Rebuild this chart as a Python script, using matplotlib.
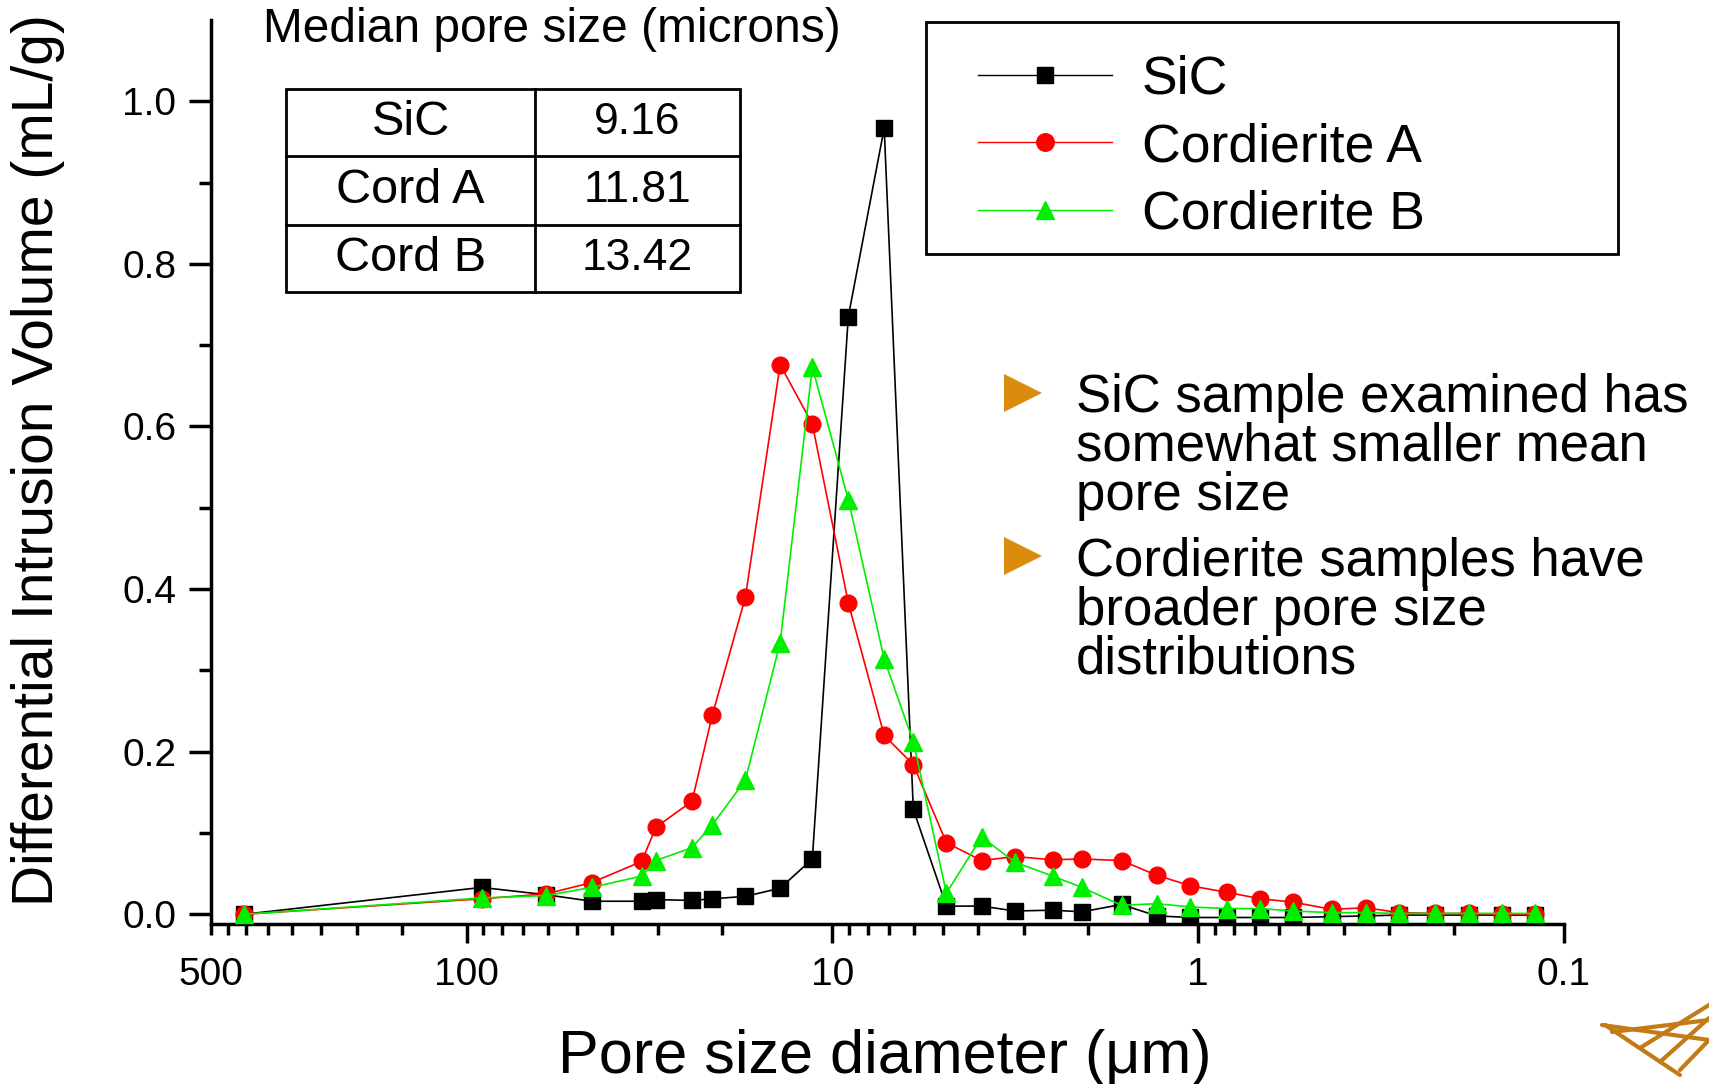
import matplotlib
matplotlib.use("Agg")
import matplotlib.pyplot as plt
from matplotlib.ticker import FixedLocator, FuncFormatter
from matplotlib.lines import Line2D

plt.rcParams['font.family'] = ['Liberation Sans', 'DejaVu Sans']

# ---- data ----
pore_size = [405, 91, 60.7, 45.5, 33.2, 30.4, 24.2, 21.3, 17.3, 13.9, 11.35, 9.05,
             7.22, 6.01, 4.88, 3.91, 3.17, 2.50, 2.08, 1.62, 1.30, 1.05, 0.835,
             0.676, 0.552, 0.432, 0.348, 0.283, 0.225, 0.182, 0.148, 0.120]
sic = [0.0, 0.033, 0.024, 0.016, 0.016, 0.018, 0.017, 0.019, 0.022, 0.032, 0.068, 0.735,
       0.967, 0.129, 0.010, 0.010, 0.004, 0.005, 0.003, 0.012, -0.002, -0.004, -0.004,
       -0.004, -0.004, -0.003, -0.002, -0.001, -0.001, -0.001, -0.001, -0.001]
cord_a = [0.0, 0.019, 0.025, 0.039, 0.065, 0.107, 0.139, 0.245, 0.390, 0.676, 0.603, 0.383,
          0.220, 0.184, 0.088, 0.066, 0.071, 0.067, 0.068, 0.066, 0.048, 0.035, 0.027,
          0.019, 0.015, 0.006, 0.008, 0.002, 0.001, 0.001, 0.0, 0.0]
cord_b = [0.0, 0.020, 0.023, 0.033, 0.047, 0.066, 0.082, 0.110, 0.165, 0.334, 0.673, 0.510,
          0.314, 0.212, 0.026, 0.095, 0.064, 0.047, 0.033, 0.011, 0.013, 0.009, 0.007,
          0.007, 0.004, 0.002, 0.002, 0.001, 0.001, 0.001, 0.001, 0.001]
series_names = ["SiC", "Cordierite A", "Cordierite B"]
table_samples = ["SiC", "Cord A", "Cord B"]
table_medians = ["9.16", "11.81", "13.42"]
x_major = [100, 10, 1, 0.1]
x_major_labels = ["100", "10", "1", "0.1"]
bullets = ["SiC sample examined has\nsomewhat smaller mean\npore size",
           "Cordierite samples have\nbroader pore size\ndistributions"]

W, H = 1709, 1084
fig = plt.figure(figsize=(W / 100, H / 100), dpi=100)
ax = fig.add_axes([211 / W, 1 - 924 / H, (1564 - 211) / W, (924 - 20) / H])

ax.plot(pore_size, sic, color='black', lw=1.2, marker='s', ms=11, mec='black', mfc='black', label=series_names[0], zorder=3)
ax.plot(pore_size, cord_a, color='red', lw=1.2, marker='o', ms=12, mec='red', mfc='red', label=series_names[1], zorder=4)
ax.plot(pore_size, cord_b, color='#00ee00', lw=1.2, marker='^', ms=13, mec='#00ee00', mfc='#00ee00', label=series_names[2], zorder=5)

ax.set_xscale('log')
ax.set_xlim(500, 0.1)
ax.set_ylim(-0.012, 1.1)

for s in ['top', 'right']:
    ax.spines[s].set_visible(False)
for s in ['left', 'bottom']:
    ax.spines[s].set_linewidth(2.5)

ax.xaxis.set_major_locator(FixedLocator(x_major))
ax.xaxis.set_major_formatter(FuncFormatter(lambda v, p: x_major_labels[x_major.index(v)] if v in x_major else ''))
minors = [150, 200, 250, 300, 350, 400, 450, 500]
for d in [10, 1, 0.1]:
    minors += [k * d for k in range(2, 10)]
ax.xaxis.set_minor_locator(FixedLocator(minors))
ax.xaxis.set_minor_formatter(FuncFormatter(lambda v, p: '500' if abs(v - 500) < 1 else ''))

ax.set_yticks([0.0, 0.2, 0.4, 0.6, 0.8, 1.0])
ax.set_yticks([0.1, 0.3, 0.5, 0.7, 0.9], minor=True)
ax.yaxis.set_major_formatter(FuncFormatter(lambda v, p: f"{v:.1f}"))

ax.tick_params(axis='x', which='major', direction='out', length=14, width=2.5, labelsize=28, pad=10)
ax.tick_params(axis='x', which='minor', direction='out', length=8, width=2.5, labelsize=28, pad=16)
ax.tick_params(axis='y', which='major', direction='out', length=16, width=2.5, labelsize=28, pad=9)
ax.tick_params(axis='y', which='minor', direction='out', length=9, width=2.5)

ax.set_xlabel("Pore size diameter (\u03bcm)", fontsize=44)
ax.xaxis.set_label_coords(0.498, (924 - 1058) / 904)
ax.xaxis.label.set_verticalalignment('center')
ax.set_ylabel("Differential Intrusion Volume (mL/g)", fontsize=41)
ax.yaxis.set_label_coords((38 - 211) / 1353, (924 - 460) / 904)
ax.yaxis.label.set_verticalalignment('center')

# legend (frame drawn separately)
leg_fs = 38.5
leg = ax.legend(loc='upper left', bbox_to_anchor=((978 - 211) / 1353, (924 - 55) / 904),
                fontsize=leg_fs, frameon=False, handlelength=2.5, numpoints=1, markerscale=1.05,
                labelspacing=0.32, borderpad=0, handletextpad=0.56, borderaxespad=0)
for h in leg.get_lines():
    h.set_linewidth(1.0)
fig.add_artist(plt.Rectangle((926 / W, 1 - 254 / H), (1618 - 926) / W, (254 - 22) / H,
                             transform=fig.transFigure, fill=False, lw=2, ec='black'))

# table
tbl_l, tbl_r, tbl_t, tbl_b = 286 / W, 740 / W, 1 - 89 / H, 1 - 292 / H
col = 535 / W
rows_y = [tbl_t, 1 - 156 / H, 1 - 225 / H, tbl_b]
fig.add_artist(plt.Rectangle((tbl_l, tbl_b), tbl_r - tbl_l, tbl_t - tbl_b, transform=fig.transFigure,
                             fill=False, lw=2, ec='black'))
fig.add_artist(Line2D([col, col], [tbl_b, tbl_t], transform=fig.transFigure, lw=2, color='black'))
for yy in rows_y[1:3]:
    fig.add_artist(Line2D([tbl_l, tbl_r], [yy, yy], transform=fig.transFigure, lw=2, color='black'))
for i in range(3):
    yc = (rows_y[i] + rows_y[i + 1]) / 2
    fig.text((tbl_l + col) / 2, yc, table_samples[i], ha='center', va='center', fontsize=35)
    fig.text((col + tbl_r) / 2, yc, table_medians[i], ha='center', va='center', fontsize=32)
fig.text(263 / W, 1 - 30 / H, "Median pore size (microns)", ha='left', va='center', fontsize=34.5)

# bullet text
for i, (ty, txt) in enumerate(zip([373, 537], bullets)):
    fig.text(1076 / W, 1 - ty / H, txt, ha='left', va='top', fontsize=38, linespacing=0.97)
    tri_y = [393, 556][i]
    fig.add_artist(plt.Polygon([[1004 / W, 1 - (tri_y - 19) / H], [1004 / W, 1 - (tri_y + 19) / H],
                                [1042 / W, 1 - tri_y / H]], closed=True, transform=fig.transFigure,
                               color='#da8a0c', ec='none'))

# logo sketch (decorative)
logo_c = '#c47a17'
for (x0, y0, x1, y1) in [(1602, 1025, 1709, 1040), (1612, 1032, 1709, 1020), (1640, 1048, 1709, 1005),
                         (1660, 1062, 1709, 1018), (1680, 1070, 1709, 1040), (1605, 1025, 1680, 1075)]:
    fig.add_artist(Line2D([x0 / W, x1 / W], [1 - y0 / H, 1 - y1 / H], transform=fig.transFigure,
                          lw=3, color=logo_c, solid_capstyle='round'))

fig.savefig("out.png", dpi=100)
